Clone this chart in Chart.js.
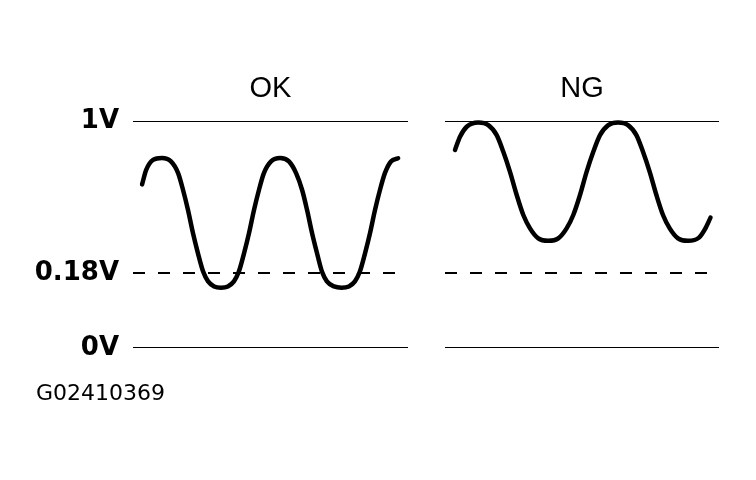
<!DOCTYPE html>
<html>
<head>
<meta charset="utf-8">
<script src="https://cdn.jsdelivr.net/npm/chart.js@4.4.1/dist/chart.umd.min.js"></script>
<style>
  body { margin: 0; background: #fff; width: 756px; height: 480px; position: relative; overflow: hidden; }
  canvas { position: absolute; top: 0; }
  #okChart { left: 0; }
  #ngChart { left: 420px; }
  #code { position: absolute; left: 36px; top: 382px; font: 22px/1 "DejaVu Sans", sans-serif; color: #000; }
</style>
</head>
<body>
<canvas id="okChart" width="420" height="480"></canvas>
<canvas id="ngChart" width="336" height="480"></canvas>
<div id="code">G02410369</div>
<script>
const TITLE_FONT = '"Liberation Sans", Arial, Helvetica, sans-serif';
const LABEL_FONT = '"DejaVu Sans", sans-serif';

// OK signal: time (0-100) and volts
const okTime = [3.3, 4.8, 7.3, 10.5, 13.8, 16.4, 18.2, 20.0, 21.8, 23.6, 25.5, 27.3, 29.5, 32.0, 34.5, 36.7, 38.5, 40.4, 42.2, 44.0, 45.8, 47.6, 50.2, 53.5, 56.7, 59.3, 61.5, 63.3, 65.1, 66.9, 68.7, 70.5, 73.1, 75.8, 78.5, 80.7, 82.5, 84.4, 86.2, 88.0, 89.8, 91.6, 93.8, 96.4];
const okVolts = [0.658, 0.736, 0.790, 0.800, 0.782, 0.719, 0.628, 0.520, 0.396, 0.288, 0.188, 0.160, 0.148, 0.145, 0.148, 0.160, 0.188, 0.288, 0.396, 0.520, 0.628, 0.719, 0.782, 0.800, 0.782, 0.719, 0.628, 0.520, 0.396, 0.288, 0.188, 0.160, 0.148, 0.145, 0.148, 0.160, 0.188, 0.288, 0.396, 0.520, 0.628, 0.719, 0.782, 0.799];

// NG signal
const ngTime = [3.65, 5.47, 7.92, 12.15, 15.8, 18.87, 21.28, 23.72, 26.17, 28.58, 31.02, 34.05, 37.7, 41.35, 44.38, 46.82, 49.27, 51.68, 54.12, 56.57, 59.6, 63.14, 66.79, 69.85, 72.26, 74.71, 77.15, 79.56, 82.01, 85.04, 88.69, 92.7, 94.89, 96.9];
const ngVolts = [0.844, 0.915, 0.969, 0.992, 0.978, 0.924, 0.834, 0.726, 0.601, 0.493, 0.421, 0.367, 0.354, 0.367, 0.421, 0.493, 0.601, 0.726, 0.834, 0.924, 0.978, 0.992, 0.978, 0.924, 0.834, 0.726, 0.601, 0.493, 0.421, 0.367, 0.354, 0.371, 0.417, 0.479];

// reference levels
const levelVolts = [0, 0.18, 1];
const levelLabels = ["0V", "0.18V", "1V"];
const timeSpan = [0, 100];
const panelTitles = ["OK", "NG"];

// the drawing is not to scale: 0.18V sits a third of the way up
const levelFrac = [0, 0.33, 1];

function voltToFrac(v) {
  let i = 1;
  while (i < levelVolts.length - 1 && v > levelVolts[i]) i++;
  const t = (v - levelVolts[i - 1]) / (levelVolts[i] - levelVolts[i - 1]);
  return levelFrac[i - 1] + t * (levelFrac[i] - levelFrac[i - 1]);
}

function fracToVolt(f) {
  let i = 1;
  while (i < levelFrac.length - 1 && f > levelFrac[i]) i++;
  const t = (f - levelFrac[i - 1]) / (levelFrac[i] - levelFrac[i - 1]);
  return levelVolts[i - 1] + t * (levelVolts[i] - levelVolts[i - 1]);
}

class VoltScale extends Chart.LinearScale {
  getPixelForValue(value) {
    if (value === null || value === undefined) return NaN;
    return this.getPixelForDecimal(voltToFrac(value));
  }
  getValueForPixel(pixel) {
    return fracToVolt(this.getDecimalForPixel(pixel));
  }
}
VoltScale.id = "volt";
VoltScale.defaults = Chart.LinearScale.defaults;
Chart.register(VoltScale);

function buildPanel(canvasId, title, time, volts, showAxis, padding) {
  const wave = time.map((t, i) => ({ x: t, y: volts[i] }));

  const refLines = levelVolts.map((v) => ({
    data: timeSpan.map((t) => ({ x: t, y: v })),
    borderColor: "#000",
    borderWidth: 2,
    borderDash: v === 0.18 ? [12, 13] : [],
    pointRadius: 0,
    fill: false,
  }));

  const config = {
    type: "line",
    data: {
      datasets: [
        {
          data: wave,
          borderColor: "#000",
          borderWidth: 4.5,
          borderCapStyle: "round",
          borderJoinStyle: "round",
          cubicInterpolationMode: "monotone",
          pointRadius: 0,
          fill: false,
          clip: false,
        },
        ...refLines,
      ],
    },
    options: {
      responsive: false,
      animation: false,
      layout: { padding },
      plugins: {
        legend: { display: false },
        tooltip: { enabled: false },
        title: {
          display: true,
          text: title,
          fullSize: false,
          color: "#000",
          font: { family: TITLE_FONT, size: 29, weight: "normal" },
          padding: { top: 71.3, bottom: 14.9 },
        },
      },
      scales: {
        x: { type: "linear", min: timeSpan[0], max: timeSpan[1], display: false },
        y: {
          type: "volt",
          min: 0,
          max: 1,
          display: showAxis,
          grid: { display: false, drawTicks: false },
          border: { display: false },
          afterBuildTicks: (scale) => {
            scale.ticks = levelVolts.map((v) => ({ value: v }));
          },
          afterFit: (scale) => {
            if (showAxis) scale.width = 133;
          },
          ticks: {
            autoSkip: false,
            padding: 14,
            color: "#000",
            font: { family: LABEL_FONT, size: 26, weight: "bold" },
            callback: (value) => levelLabels[levelVolts.indexOf(value)],
          },
        },
      },
    },
  };

  new Chart(document.getElementById(canvasId), config);
}

buildPanel("okChart", panelTitles[0], okTime, okVolts, true, { left: 0, right: 12, top: 0, bottom: 132 });
buildPanel("ngChart", panelTitles[1], ngTime, ngVolts, false, { left: 25, right: 37, top: 0, bottom: 132 });
</script>
</body>
</html>
